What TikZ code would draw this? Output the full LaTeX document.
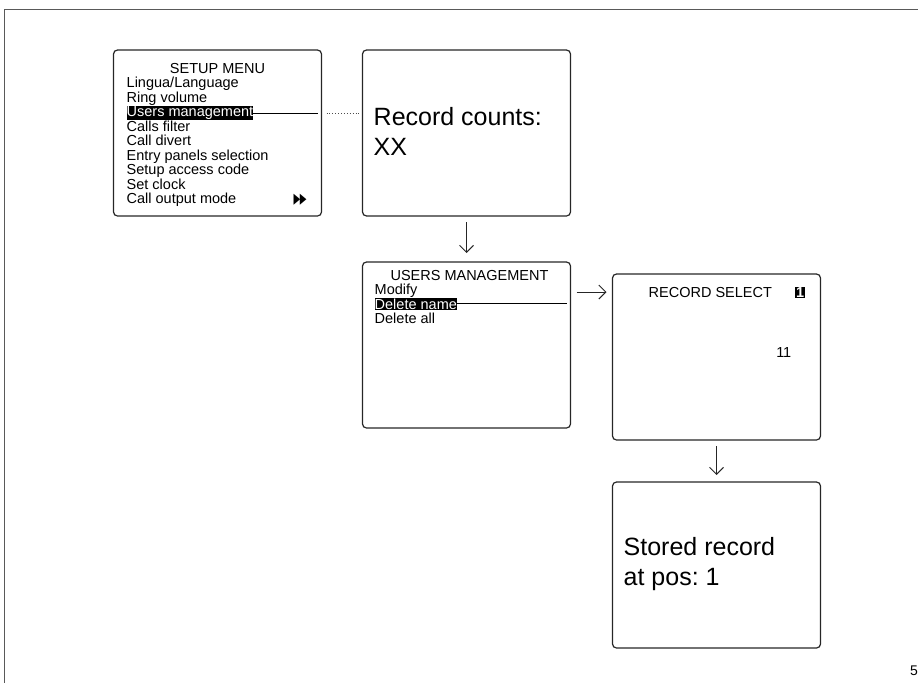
\documentclass[tikz,border=0pt]{standalone}
\usepackage{fontspec}
\setmainfont{Liberation Sans}
\newfontfamily\symfont{DejaVu Sans}
\usetikzlibrary{arrows.meta,positioning}
\frenchspacing

\begin{document}
\begin{tikzpicture}[x=1pt,y=-1pt,>={Straight Barb[length=7pt,width=14pt]},
		screen/.style={draw=black!85,line width=1.2pt,rounded corners=4pt,
			minimum width=208pt,minimum height=166pt,inner sep=0pt,outer sep=0pt},
		menu item/.style={inner sep=0pt,font=\fontsize{14.5}{14.5}\selectfont},
		sel item/.style={menu item,fill=black,text=white,inner xsep=0pt,inner ysep=0.5pt},
		big text/.style={inner sep=0pt,align=left,font=\fontsize{25}{30}\selectfont},
		link/.style={draw=black,line width=0.9pt},
		flow/.style={->,draw=black!85,line width=1pt}]
		
		\useasboundingbox (0,0) rectangle (918,683);
		\draw[gray!70!black,line width=0.9pt] (918,9) -- (4,9) -- (4,683);
		
		% screens
		\node[screen] (menu) at (217.5,133) {};
		\node[screen] (counts) [right=41pt of menu] {};
		\node[screen] (users) [below=46pt of counts] {};
		\node[screen] (select) [below right=12pt and 42pt of users.north east] {};
		\node[screen] (stored) [below=42pt of select] {};
		
		% setup menu
		\node[menu item,anchor=base] (setup) at ([yshift=-23pt]menu.north) {SETUP MENU};
		\node[menu item,anchor=base west] (lingua) at ([shift={(13pt,-37.5pt)}]menu.north west) {Lingua/Language};
		\node[menu item,anchor=base west] (ring) at ([yshift=-14.5pt]lingua.base west) {Ring volume};
		\node[menu item,anchor=base west] (filter) at ([yshift=-43.5pt]lingua.base west) {Calls filter};
		\node[sel item,anchor=base west] (usersitem) at ([yshift=-14.5pt]ring.base west) {Users management};
		\node[menu item,anchor=base west] (divert) at ([yshift=-14.5pt]filter.base west) {Call divert};
		\node[menu item,anchor=base west] (entry) at ([yshift=-14.5pt]divert.base west) {Entry panels selection};
		\node[menu item,anchor=base west] (access) at ([yshift=-14.5pt]entry.base west) {Setup access code};
		\node[menu item,anchor=base west] (clock) at ([yshift=-14.5pt]access.base west) {Set clock};
		\node[menu item,anchor=base west] (output) at ([yshift=-14.5pt]clock.base west) {Call output mode};
		\node[menu item,anchor=base west] (more) at ([xshift=-28pt]output.base -| menu.east)
			{\symfont\scalebox{0.6}[1]{▶\kern-1pt▶}};
		
		% record counts (base = last line)
		\node[big text,anchor=base west] (counttext) at ([shift={(11pt,-105pt)}]counts.north west) {Record counts:\\XX};
		
		% users management
		\node[menu item,anchor=base] (usertitle) at ([shift={(3pt,-18pt)}]users.north) {USERS MANAGEMENT};
		\node[menu item,anchor=base west] (modify) at ([shift={(12pt,-32.5pt)}]users.north west) {Modify};
		\node[menu item,anchor=base west] (delall) at ([yshift=-29pt]modify.base west) {Delete all};
		\node[sel item,anchor=base west] (delname) at ([yshift=-14.5pt]modify.base west) {Delete name};
		
		% record select
		\node[menu item,anchor=base west] (seltitle) at ([shift={(36pt,-23pt)}]select.north west) {RECORD SELECT};
		\node[sel item,anchor=base east,inner xsep=1pt,font=\fontsize{14.5}{14.5}\selectfont\bfseries] (selnum)
			at ([shift={(-15pt,-23pt)}]select.north east) {1};
		\node[menu item,anchor=base east] (selcount) at ([shift={(-29pt,-83pt)}]select.north east) {11};
		
		% stored record
		\node[big text,anchor=base west] (storedtext) at ([shift={(11pt,-103pt)}]stored.north west) {Stored record\\at pos: 1};
		
		\node[anchor=base west,inner sep=0pt,font=\fontsize{14}{14}\selectfont] (pagenum) at (910,675) {5};
		
		% connectors
		\draw[link,shorten >=4pt] (usersitem.east) -- (usersitem.east -| menu.east);
		\draw[link,dotted,draw=black!70,shorten <=5pt,shorten >=4pt] (usersitem.east -| menu.east) -- (usersitem.east -| counts.west);
		\draw[flow,shorten <=6pt,shorten >=9pt] (counts) -- (users);
		\draw[link,shorten >=4pt] (delname.east) -- (delname.east -| users.east);
		\draw[flow,shorten <=6pt,shorten >=6pt] (seltitle.west -| users.east) -- (seltitle.west -| select.west);
		\draw[flow,shorten <=6pt,shorten >=7pt] (select) -- (stored);
\end{tikzpicture}
\end{document}
